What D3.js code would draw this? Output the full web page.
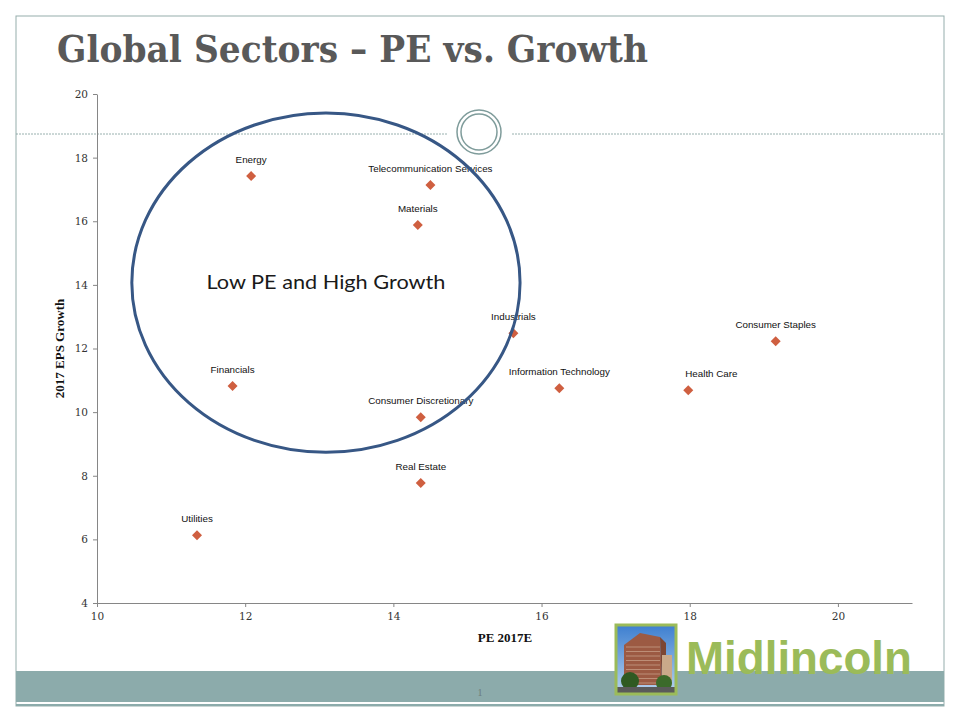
<!DOCTYPE html>
<html>
<head>
<meta charset="utf-8">
<script src="https://cdn.jsdelivr.net/npm/d3@7"></script>
<style>
  body { margin: 0; background: #fff; }
  svg { display: block; }
</style>
</head>
<body>
<svg width="960" height="720"></svg>
<script>
// sector data
const sectors = ["Energy", "Telecommunication Services", "Materials", "Industrials", "Consumer Staples",
    "Financials", "Information Technology", "Health Care", "Consumer Discretionary", "Real Estate", "Utilities"]
const pe2017 = [12.08, 14.50, 14.33, 15.62, 19.16, 11.83, 16.24, 17.98, 14.37, 14.37, 11.35]
const epsGrowth = [17.42, 17.14, 15.88, 12.48, 12.23, 10.82, 10.75, 10.69, 9.84, 7.77, 6.13]
// label anchoring: most labels sit centred above the marker, Health Care starts at it
const labelAnchor = ["middle", "middle", "middle", "middle", "middle",
    "middle", "middle", "start", "middle", "middle", "middle"]

const xTicks = [10, 12, 14, 16, 18, 20]
const yTicks = [4, 6, 8, 10, 12, 14, 16, 18, 20]

// "low PE / high growth" zone, in data units: [centre x, centre y, half width, half height]
const zone = [13.09, 14.07, 2.62, 5.33]

const svg = d3.select('svg'),
    width = 960,
    height = 720

const x = d3.scaleLinear().domain([10, 21]).range([97, 912])
const y = d3.scaleLinear().domain([4, 20]).range([603, 94])

// ---- slide frame ----
const frame = svg.append('g').attr('class', 'frame')
frame.append('rect')
    .attr('x', 16).attr('y', 16)
    .attr('width', 928).attr('height', 690)
    .attr('fill', 'none')
    .attr('stroke', '#95adac')
    .attr('stroke-width', 1)

frame.append('rect')
    .attr('x', 16).attr('y', 671)
    .attr('width', 928).attr('height', 31)
    .attr('fill', '#8cabab')
frame.append('line')
    .attr('x1', 16).attr('x2', 944)
    .attr('y1', 705).attr('y2', 705)
    .attr('stroke', '#8cabab').attr('stroke-width', 2)

// dotted rule with the ring ornament
frame.append('line')
    .attr('x1', 16).attr('x2', 448).attr('y1', 134).attr('y2', 134)
    .attr('stroke', '#7f9c9b').attr('stroke-dasharray', '2,1').attr('stroke-width', 0.8)
frame.append('line')
    .attr('x1', 512).attr('x2', 944).attr('y1', 134).attr('y2', 134)
    .attr('stroke', '#7f9c9b').attr('stroke-dasharray', '2,1').attr('stroke-width', 0.8)
frame.append('circle')
    .attr('cx', 479).attr('cy', 132).attr('r', 22)
    .attr('fill', '#fff').attr('stroke', '#7f9c9b').attr('stroke-width', 1.5)
frame.append('circle')
    .attr('cx', 479).attr('cy', 132).attr('r', 18)
    .attr('fill', 'none').attr('stroke', '#7f9c9b').attr('stroke-width', 1.5)

frame.append('text')
    .attr('x', 480).attr('y', 696)
    .attr('text-anchor', 'middle')
    .attr('font-family', 'Liberation Serif, serif')
    .attr('font-size', 10)
    .attr('fill', '#6b7b7b')
    .text('1')

// ---- title ----
svg.append('text')
    .attr('x', 57).attr('y', 62)
    .attr('font-family', 'DejaVu Serif, serif')
    .attr('font-weight', 'bold')
    .attr('font-size', 37)
    .attr('fill', '#595959')
    .attr('textLength', 591)
    .attr('lengthAdjust', 'spacingAndGlyphs')
    .text('Global Sectors \u2013 PE vs. Growth')

// ---- axes ----
const xAxis = svg.append('g')
    .attr('transform', `translate(0,${y(4)})`)
    .call(d3.axisBottom(x).tickValues(xTicks).tickSize(4).tickPadding(6).tickSizeOuter(0))
const yAxis = svg.append('g')
    .attr('transform', `translate(${x(10)},0)`)
    .call(d3.axisLeft(y).tickValues(yTicks).tickSize(4).tickPadding(5).tickSizeOuter(0))

;[xAxis, yAxis].forEach(ax => {
    ax.select('.domain').attr('stroke', '#868686')
    ax.selectAll('.tick line').attr('stroke', '#868686')
    ax.selectAll('.tick text')
        .attr('fill', '#333')
        .attr('font-family', 'DejaVu Serif, serif')
        .attr('font-size', 10.5)
})

svg.append('text')
    .attr('x', 505).attr('y', 642)
    .attr('text-anchor', 'middle')
    .attr('font-family', 'Liberation Serif, serif')
    .attr('font-weight', 'bold')
    .attr('font-size', 13)
    .attr('fill', '#111')
    .text('PE 2017E')

svg.append('text')
    .attr('transform', `translate(64,${(y(4) + y(20)) / 2}) rotate(-90)`)
    .attr('text-anchor', 'middle')
    .attr('font-family', 'Liberation Serif, serif')
    .attr('font-weight', 'bold')
    .attr('font-size', 13)
    .attr('fill', '#111')
    .text('2017 EPS Growth')

// ---- points ----
const points = sectors.map((name, i) => ({ name: name, pe: pe2017[i], growth: epsGrowth[i], anchor: labelAnchor[i] }))
const diamond = d3.symbol().type(d3.symbolSquare).size(50)

const pt = svg.append('g').attr('class', 'points')
    .selectAll('g')
    .data(points)
    .enter().append('g')
    .attr('transform', d => `translate(${x(d.pe)},${y(d.growth)})`)

pt.append('path')
    .attr('d', diamond)
    .attr('transform', 'rotate(45)')
    .attr('fill', '#cf5f40')

pt.append('text')
    .attr('x', d => d.anchor === 'start' ? -3 : 0)
    .attr('y', -13)
    .attr('text-anchor', d => d.anchor)
    .attr('font-family', 'Liberation Sans, Arial, sans-serif')
    .attr('font-size', 9.8)
    .attr('fill', '#111')
    .text(d => d.name)

// ---- highlighted zone ----
svg.append('ellipse')
    .attr('cx', x(zone[0]))
    .attr('cy', y(zone[1]))
    .attr('rx', x(zone[0] + zone[2]) - x(zone[0]))
    .attr('ry', y(zone[1] - zone[3]) - y(zone[1]))
    .attr('fill', 'none')
    .attr('stroke', '#375785')
    .attr('stroke-width', 3)

svg.append('text')
    .attr('x', x(zone[0])).attr('y', y(zone[1]) + 6)
    .attr('text-anchor', 'middle')
    .attr('font-family', 'Lato, sans-serif')
    .attr('font-size', 19)
    .attr('fill', '#1a1a1a')
    .attr('textLength', 239)
    .attr('lengthAdjust', 'spacingAndGlyphs')
    .text('Low PE and High Growth')

// ---- logo ----
const logo = svg.append('g').attr('class', 'logo').attr('transform', 'translate(616,625)')
const sky = svg.append('defs').append('linearGradient')
    .attr('id', 'sky').attr('x1', 0).attr('y1', 0).attr('x2', 0).attr('y2', 1)
sky.append('stop').attr('offset', 0).attr('stop-color', '#3d7fd0')
sky.append('stop').attr('offset', 1).attr('stop-color', '#b9d3ee')
logo.append('rect').attr('width', 60).attr('height', 69).attr('fill', 'url(#sky)')
logo.append('polygon').attr('points', '8,20 24,8 44,12 46,60 8,60').attr('fill', '#9c5a43')
logo.append('polygon').attr('points', '44,12 50,18 50,60 46,60').attr('fill', '#7c4634')
logo.append('rect').attr('x', 46).attr('y', 30).attr('width', 10).attr('height', 30).attr('fill', '#c9a98a')
d3.range(9).forEach(r => {
    logo.append('line')
        .attr('x1', 10).attr('x2', 44)
        .attr('y1', 22 + r * 4.5).attr('y2', 22 + r * 4.5)
        .attr('stroke', '#d7b9a2').attr('stroke-width', 0.8).attr('opacity', 0.7)
})
logo.append('circle').attr('cx', 14).attr('cy', 56).attr('r', 9).attr('fill', '#2f5a22')
logo.append('circle').attr('cx', 48).attr('cy', 58).attr('r', 8).attr('fill', '#3b6a2a')
logo.append('rect').attr('y', 62).attr('width', 60).attr('height', 7).attr('fill', '#5a5a5a')
logo.append('rect').attr('width', 60).attr('height', 69)
    .attr('fill', 'none').attr('stroke', '#9bbb59').attr('stroke-width', 3)

svg.append('text')
    .attr('x', 686).attr('y', 674)
    .attr('font-family', 'Liberation Sans, Arial, sans-serif')
    .attr('font-weight', 'bold')
    .attr('font-size', 46)
    .attr('fill', '#9bbb59')
    .attr('textLength', 226)
    .attr('lengthAdjust', 'spacingAndGlyphs')
    .text('Midlincoln')
</script>
</body>
</html>
